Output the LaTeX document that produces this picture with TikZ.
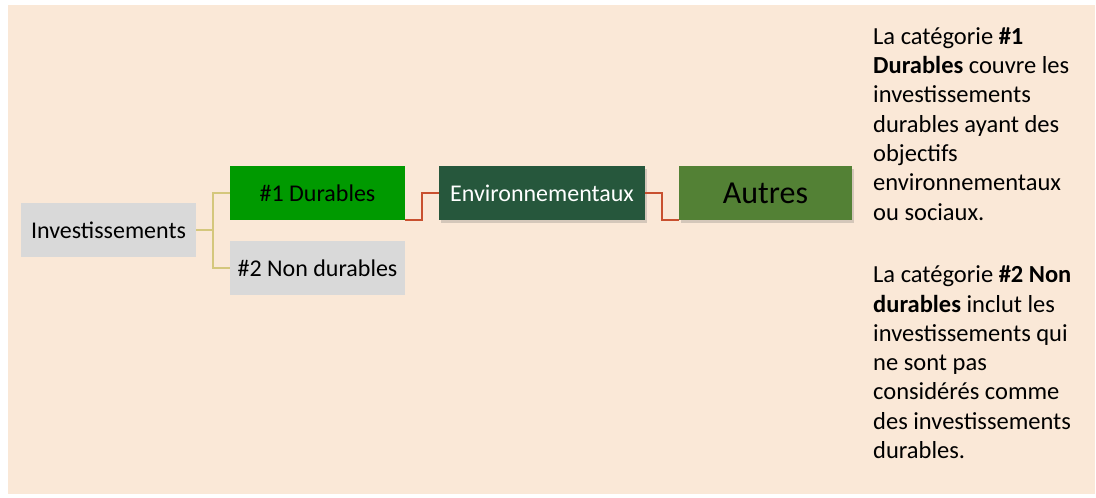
\documentclass[tikz,border=0pt]{standalone}
\usepackage{fontspec}
\setmainfont{Carlito}
\usetikzlibrary{shadows}
\definecolor{bg}{HTML}{FAE8D7}
\definecolor{greybox}{HTML}{D9D9D9}
\definecolor{brightgreen}{HTML}{009A00}
\definecolor{darkgreen}{HTML}{26573C}
\definecolor{olive}{HTML}{538135}
\definecolor{tanline}{HTML}{D4C77C}
\definecolor{redline}{HTML}{C8502F}
\tikzset{
  box/.style={minimum width=175pt, minimum height=54pt, inner sep=0pt, font=\fontsize{24}{28}\selectfont},
  shadowed/.style={drop shadow={shadow xshift=2pt, shadow yshift=-3pt, opacity=0.25, fill=black!60}},
  tan/.style={draw=tanline, line width=1.3pt},
  red/.style={draw=redline, line width=1.6pt},
  para/.style={anchor=base west, align=left, inner sep=0pt, font=\fontsize{24.5}{29.3}\selectfont}
}
\begin{document}
\begin{tikzpicture}[x=1pt,y=-1pt]
\useasboundingbox (0,0) rectangle (1096,498);
\fill[bg] (8,5) rectangle (1095,494);
\node[box, fill=greybox] (inv) at (108.5,230) {Investissements};
\node[box, fill=brightgreen] (dur) at (317.5,193) {\#1 Durables};
\node[box, fill=greybox] (non) at (317.5,268) {\#2 Non durables};
\node[box, shadowed, fill=darkgreen, text=white, minimum width=206pt] (env) at (542,193) {Environnementaux};
\node[box, shadowed, fill=olive, minimum width=173pt, font=\fontsize{32}{36}\selectfont] (aut) at (765.5,193) {Autres};
\coordinate (tj) at (213,230);
\draw[tan] (inv.east) -- (tj) |- (dur.west);
\draw[tan] (tj) |- (non.west);
\draw[red] (dur.south east) -- ++(17,0) |- (env.west);
\draw[red] (env.east) -- ++(17,0) |- (aut.south west);
\node[para] (p1) at (873,220) {La catégorie \textbf{\#1}\\\textbf{Durables} couvre les\\investissements\\durables ayant des\\objectifs\\environnementaux\\ou sociaux.};
\node[para] (p2) at (873,458.5) {La catégorie \textbf{\#2 Non}\\\textbf{durables} inclut les\\investissements qui\\ne sont pas\\considérés comme\\des investissements\\durables.};
\end{tikzpicture}
\end{document}
